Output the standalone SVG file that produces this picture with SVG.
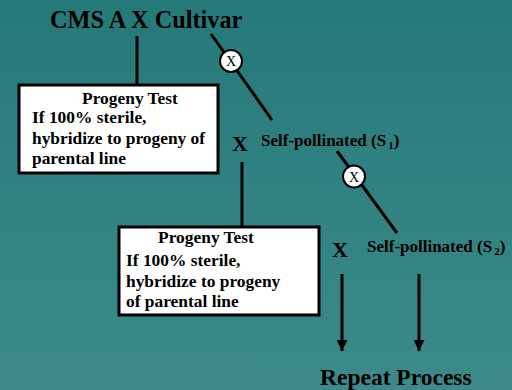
<svg xmlns="http://www.w3.org/2000/svg" width="512" height="390" viewBox="0 0 512 390">
<defs>
<linearGradient id="bg" x1="0" y1="0" x2="0" y2="1">
<stop offset="0" stop-color="#267979"/>
<stop offset="1" stop-color="#3c8a8a"/>
</linearGradient>
<marker id="arr" markerWidth="12" markerHeight="11" refX="11" refY="5.5" orient="auto" markerUnits="userSpaceOnUse">
<path d="M0,0 L11,5.5 L0,11 Z" fill="#000"/>
</marker>
<style>
text{font-family:"Liberation Serif","Times New Roman",serif;font-weight:bold;fill:#000}
.big{font-size:24.3px}
.rp{font-size:23.5px}
.xx{font-size:22px}
.bx{font-size:17.4px}
.sp{font-size:17px}
.cx{font-size:14px;font-weight:normal}
.ln{stroke:#000;stroke-width:3;fill:none}
.box{fill:#fff;stroke:#000;stroke-width:3}
.cir{fill:#fff;stroke:#000;stroke-width:2}
</style>
</defs>
<rect width="512" height="390" fill="url(#bg)"/>
<g id="connectors">
<line class="ln" x1="137" y1="36" x2="137" y2="84"/>
<line class="ln" x1="211" y1="34" x2="272" y2="120"/>
<line class="ln" x1="242" y1="162" x2="242" y2="226"/>
<line class="ln" x1="337" y1="151" x2="397" y2="233"/>
<line class="ln" x1="342" y1="274" x2="342" y2="351" marker-end="url(#arr)"/>
<line class="ln" x1="419" y1="274" x2="419" y2="351" marker-end="url(#arr)"/>
</g>
<g id="title"><text class="big" x="50" y="28">CMS A X Cultivar</text></g>
<g id="cross1"><circle class="cir" cx="231" cy="61" r="11"/><text class="cx" x="231" y="66" text-anchor="middle">X</text></g>
<g id="box1">
<rect class="box" x="19" y="85" width="199" height="88"/>
<text class="bx" x="130" y="104" text-anchor="middle">Progeny Test</text>
<text class="bx" x="32" y="123">If 100% sterile,</text>
<text class="bx" x="32" y="143.5">hybridize to progeny of</text>
<text class="bx" x="32" y="164">parental line</text>
</g>
<g id="x1"><text class="xx" x="232" y="151">X</text></g>
<g id="s1"><text class="sp" x="261" y="146">Self-pollinated (S<tspan font-size="11" dx="2" dy="3">1</tspan><tspan dy="-3">)</tspan></text></g>
<g id="cross2"><circle class="cir" cx="354" cy="176.5" r="11"/><text class="cx" x="354" y="181.5" text-anchor="middle">X</text></g>
<g id="box2">
<rect class="box" x="119" y="227" width="200" height="88"/>
<text class="bx" x="206" y="243" text-anchor="middle">Progeny Test</text>
<text class="bx" x="126" y="266">If 100% sterile,</text>
<text class="bx" x="126" y="286.5">hybridize to progeny</text>
<text class="bx" x="126" y="307">of parental line</text>
</g>
<g id="x2"><text class="xx" x="332" y="256.5">X</text></g>
<g id="s2"><text class="sp" x="367" y="251.5">Self-pollinated (S<tspan font-size="11" dx="2" dy="3">2</tspan><tspan dy="-3">)</tspan></text></g>
<g id="repeat"><text class="rp" x="320" y="385">Repeat Process</text></g>
</svg>
